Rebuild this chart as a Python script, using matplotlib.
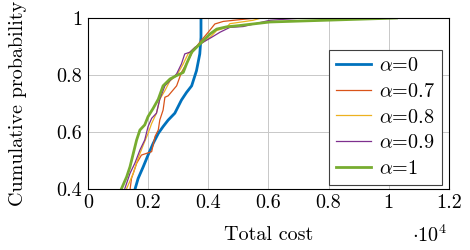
import matplotlib
matplotlib.use("Agg")
import matplotlib.pyplot as plt

plt.rcParams["font.family"] = "serif"
plt.rcParams["font.serif"] = ["cmr10", "DejaVu Serif"]
plt.rcParams["mathtext.fontset"] = "cm"
plt.rcParams["axes.unicode_minus"] = False

# total cost (x 1e4) and cumulative probability
x_a0 = [0.156, 0.167, 0.184, 0.200, 0.217, 0.234, 0.250, 0.267, 0.289, 0.300, 0.311,
        0.328, 0.345, 0.361, 0.372, 0.376, 0.376]
y_a0 = [0.397, 0.437, 0.478, 0.519, 0.560, 0.595, 0.619, 0.642, 0.666, 0.689, 0.712,
        0.739, 0.762, 0.815, 0.874, 0.932, 1.0]

x_a07 = [0.140, 0.145, 0.162, 0.178, 0.195, 0.212, 0.223, 0.234, 0.239, 0.250, 0.256,
         0.267, 0.295, 0.311, 0.333, 0.350, 0.372, 0.400, 0.422, 0.450, 0.494, 0.560]
y_a07 = [0.397, 0.437, 0.490, 0.519, 0.525, 0.531, 0.584, 0.607, 0.642, 0.677, 0.722,
         0.727, 0.762, 0.809, 0.850, 0.885, 0.915, 0.950, 0.979, 0.988, 0.993, 1.0]

x_a08 = [0.129, 0.151, 0.167, 0.184, 0.200, 0.212, 0.228, 0.239, 0.256, 0.273, 0.295,
         0.317, 0.333, 0.356, 0.383, 0.406, 0.428, 0.461, 0.472, 0.549, 0.577]
y_a08 = [0.402, 0.455, 0.508, 0.554, 0.595, 0.630, 0.666, 0.715, 0.745, 0.780, 0.798,
         0.839, 0.874, 0.897, 0.915, 0.932, 0.956, 0.967, 0.980, 0.992, 1.0]

x_a09 = [0.123, 0.140, 0.156, 0.173, 0.189, 0.200, 0.212, 0.228, 0.239, 0.256, 0.273,
         0.295, 0.311, 0.322, 0.339, 0.356, 0.383, 0.411, 0.439, 0.472, 0.516, 0.605, 0.715]
y_a09 = [0.402, 0.455, 0.490, 0.537, 0.572, 0.619, 0.648, 0.666, 0.715, 0.762, 0.780,
         0.804, 0.839, 0.874, 0.880, 0.897, 0.915, 0.932, 0.950, 0.967, 0.970, 0.992, 1.0]

x_a1 = [0.112, 0.129, 0.140, 0.151, 0.162, 0.173, 0.189, 0.200, 0.217, 0.234, 0.250,
        0.273, 0.295, 0.317, 0.328, 0.345, 0.361, 0.383, 0.406, 0.428, 0.461, 0.500,
        0.605, 0.970, 1.026]
y_a1 = [0.402, 0.443, 0.478, 0.525, 0.572, 0.607, 0.625, 0.654, 0.683, 0.715, 0.762,
        0.786, 0.798, 0.809, 0.839, 0.880, 0.897, 0.920, 0.944, 0.961, 0.969, 0.973,
        0.986, 0.998, 1.0]

series = [
    (r"$\alpha$=0", x_a0, y_a0, "#0072BD", 2.0),
    (r"$\alpha$=0.7", x_a07, y_a07, "#D95319", 0.9),
    (r"$\alpha$=0.8", x_a08, y_a08, "#EDB120", 0.9),
    (r"$\alpha$=0.9", x_a09, y_a09, "#7E2F8E", 0.9),
    (r"$\alpha$=1", x_a1, y_a1, "#77AC30", 2.0),
]

fs = 14.5

fig = plt.figure(figsize=(4.7, 2.5), dpi=100)
ax = fig.add_axes([0.187, 0.244, 0.768, 0.684])

for label, xs, ys, col, lw in series:
    ax.plot(xs, ys, color=col, lw=lw, label=label)

ax.set_xlim(0, 1.2)
ax.set_ylim(0.4, 1.0)
ax.set_xticks([0, 0.2, 0.4, 0.6, 0.8, 1.0, 1.2])
ax.set_xticklabels(["0", "0.2", "0.4", "0.6", "0.8", "1", "1.2"])
ax.set_yticks([0.4, 0.6, 0.8, 1.0])
ax.set_yticklabels(["0.4", "0.6", "0.8", "1"])
ax.tick_params(labelsize=fs, length=0)
ax.tick_params(axis="x", pad=4)
ax.tick_params(axis="y", pad=4)
ax.grid(True, color="#c8c8c8", lw=0.7)
for s in ax.spines.values():
    s.set_linewidth(0.8)

ax.set_xlabel("Total cost", fontsize=fs, labelpad=10)
ax.set_ylabel("Cumulative probability", fontsize=fs, labelpad=21)
ax.text(0.995, -0.205, r"$\cdot 10^4$", transform=ax.transAxes, fontsize=fs,
        ha="right", va="top")

leg = ax.legend(loc="lower right", bbox_to_anchor=(0.981, 0.023), borderaxespad=0,
                fontsize=fs, fancybox=False, framealpha=1, edgecolor="#404040",
                handlelength=1.75, borderpad=0.35, labelspacing=0.38, handletextpad=0.4)
leg.get_frame().set_linewidth(0.8)

fig.savefig("out.png", dpi=100)
